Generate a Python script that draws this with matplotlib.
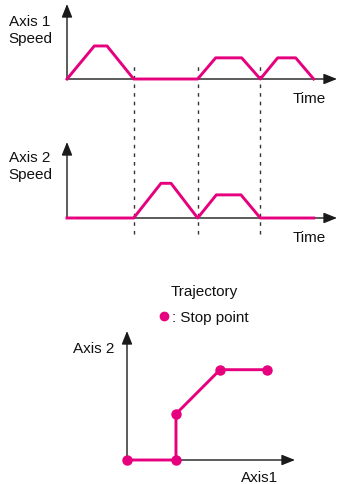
import matplotlib
matplotlib.use('Agg')
import matplotlib.pyplot as plt
from matplotlib.lines import Line2D

plt.rcParams['font.family'] = ['Liberation Sans', 'DejaVu Sans']

PINK = '#e6007e'
AXC = '#1a1a1a'

# axis 1 speed profile (time, speed)
t1 = [0, 4.1, 6.0, 10.0, 19.6, 22.3, 26.2, 29.0, 31.6, 34.3, 37.0]
v1 = [0, 1.0, 1.0, 0, 0, 0.64, 0.64, 0, 0.64, 0.64, 0]

# axis 2 speed profile
t2 = [0, 10.0, 14.1, 15.6, 19.6, 22.4, 26.1, 29.0, 37.0]
v2 = [0, 0, 1.05, 1.05, 0, 0.7, 0.7, 0, 0]

# times where one axis stops
t_stop = [10.0, 19.6, 29.0]

# trajectory in axis1 / axis2 space, every vertex is a stop point
pos1 = [0, 1.0, 1.0, 1.9, 2.86]
pos2 = [0, 0, 1.0, 1.96, 1.96]

W, H = 338, 485


def box(l, t, r, b):
    return [l / W, 1 - b / H, (r - l) / W, (b - t) / H]


def ptext(x, y, s, ha='center'):
    fig.text(x / W, 1 - y / H, s, ha=ha, va='baseline', fontsize=11, color='#111111')


def arrows(ax):
    ax.axis('off')
    style = '-|>,head_length=0.8,head_width=0.32'
    for end in [(1, 0), (0, 1)]:
        ax.annotate('', xy=end, xytext=(0, 0), xycoords='axes fraction',
                    arrowprops=dict(arrowstyle=style, color=AXC, lw=1.0,
                                    shrinkA=0, shrinkB=0, mutation_scale=10))


fig = plt.figure(figsize=(3.38, 4.85), dpi=100)

######## Axis 1 speed ########
ax1 = fig.add_axes(box(67, 5, 337, 80))
ax1.set_xlim(0, 40.5)
ax1.set_ylim(0, 2.27)
arrows(ax1)
ax1.plot(t1, v1, color=PINK, lw=2.1, clip_on=False, zorder=3)
# dashed stop markers running down through the second panel
ax1.vlines(t_stop, -2.07, 0.227, transform=ax1.get_xaxis_transform(),
           colors='#333333', lw=1.0, linestyles=(0, (2.6, 3.6)), clip_on=False, zorder=1)

######## Axis 2 speed ########
ax2 = fig.add_axes(box(67, 143, 337, 219))
ax2.set_xlim(0, 40.5)
ax2.set_ylim(0, 2.3)
arrows(ax2)
ax2.plot(t2, v2, color=PINK, lw=2.1, clip_on=False, zorder=3)

######## Trajectory ########
ax3 = fig.add_axes(box(127, 332, 295, 461))
ax3.set_xlim(0, 3.43)
ax3.set_ylim(0, 2.8)
arrows(ax3)
ax3.plot(pos1, pos2, color=PINK, lw=2.1, marker='o', ms=6.5,
         clip_on=False, zorder=3)

######## Labels ########
ptext(30, 26, 'Axis 1')
ptext(30, 43, 'Speed')
ptext(309, 103, 'Time')
ptext(30, 162, 'Axis 2')
ptext(30, 179, 'Speed')
ptext(309, 242, 'Time')
ptext(204, 296, 'Trajectory')
fig.add_artist(Line2D([164 / W], [1 - 317 / H], transform=fig.transFigure,
                      marker='o', ms=6, color=PINK, ls='none'))
ptext(172, 322, ': Stop point', ha='left')
ptext(94, 353, 'Axis 2')
ptext(260, 482, 'Axis1')

fig.savefig('out.png', dpi=100)
